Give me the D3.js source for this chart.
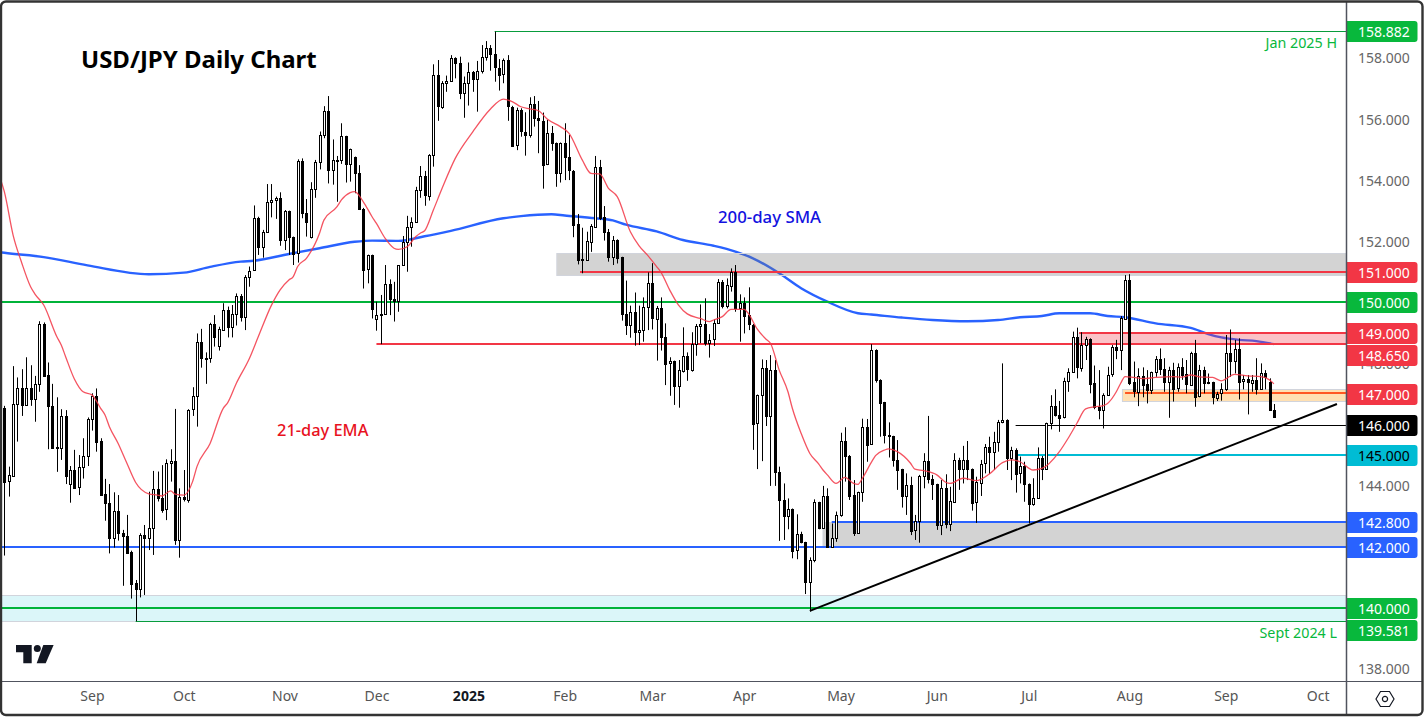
<!DOCTYPE html>
<html>
<head>
<meta charset="utf-8">
<script src="https://cdn.jsdelivr.net/npm/d3@7"></script>
<style>
html,body{margin:0;padding:0;background:#fff;overflow:hidden}
svg{display:block}
text{font-family:"Noto Sans",sans-serif}
</style>
</head>
<body>
<svg id="chart" width="1427" height="717"></svg>
<script>
//candles (291 daily bars)
const opens=[146.57,144.15,144.33,146.68,147.20,146.64,147.20,146.84,147.33,149.30,
147.63,146.63,145.27,145.24,146.29,144.06,144.53,143.95,144.62,144.98,
146.19,146.95,145.48,143.74,143.44,142.28,143.18,142.46,142.37,141.85,
140.82,140.61,142.39,142.28,142.62,143.90,143.60,143.23,144.75,144.81,
142.22,143.64,143.57,146.50,146.94,148.71,148.20,148.19,149.30,148.57,
149.11,149.76,149.19,149.63,150.22,149.53,150.84,151.06,152.77,151.81,
152.31,153.28,153.36,153.42,152.04,153.00,152.15,151.62,154.64,152.93,
152.14,153.72,154.60,155.49,156.27,154.33,154.68,154.67,155.45,154.54,
154.76,154.24,153.09,151.09,151.56,149.45,149.64,149.63,150.61,150.12,
150.04,151.23,151.98,152.47,152.64,153.68,154.14,153.51,154.83,157.45,
156.42,157.19,157.25,158.01,157.84,156.86,157.19,157.55,157.32,157.58,
158.04,158.33,158.14,157.70,157.48,157.94,156.42,155.16,156.31,155.61,
155.50,156.50,156.04,155.96,154.52,155.55,155.22,154.23,155.22,154.76,
154.33,152.57,151.44,151.40,152.01,152.50,154.45,152.80,152.32,151.51,
152.06,151.49,149.63,149.26,149.69,149.03,149.10,149.85,150.64,149.48,
149.83,148.90,148.01,148.09,147.26,147.77,148.25,147.81,148.65,149.22,
149.30,148.70,148.80,149.33,150.67,149.88,150.57,151.02,149.84,149.99,
149.60,149.29,146.05,146.97,147.86,146.28,147.79,144.45,143.54,143.00,
143.25,141.89,142.42,142.16,140.84,141.57,143.47,142.61,143.67,142.00,
142.29,143.05,145.47,144.99,143.70,142.46,143.80,145.93,145.36,148.45,
147.48,146.74,145.66,145.63,144.86,144.55,143.66,144.03,142.54,142.85,
144.31,144.81,144.23,144.06,142.72,143.93,142.75,143.49,144.86,144.56,
144.85,144.56,143.46,144.12,144.74,145.28,145.12,145.44,146.08,146.16,
144.93,145.20,144.41,144.65,144.07,143.41,143.62,144.92,144.55,146.06,
146.61,146.33,146.24,147.42,147.73,148.87,147.88,148.61,148.82,147.37,
146.60,146.50,147.00,147.65,148.55,148.44,149.48,150.75,147.40,147.09,
147.60,147.33,147.13,147.72,148.16,147.82,147.40,147.80,147.19,147.89,
147.66,147.31,148.36,146.93,147.79,147.41,147.40,146.90,147.03,147.17,
148.35,148.10,148.49,147.42,147.50,147.39,147.48,147.18,147.69,147.40,
146.49];
const closes=[144.15,144.36,146.68,147.20,146.64,147.20,146.84,147.33,149.30,147.61,
146.60,145.26,145.25,146.29,144.31,144.52,143.95,144.62,144.98,146.19,
146.95,145.46,143.72,143.44,142.28,143.18,142.45,142.35,141.82,140.81,
140.61,142.39,142.28,142.62,143.90,143.60,143.22,144.75,144.81,142.22,
143.64,143.57,146.50,146.94,148.71,148.19,148.18,149.30,148.87,149.14,
149.76,149.19,149.63,150.22,149.52,150.84,151.05,152.77,151.81,152.31,
153.29,153.36,153.42,152.04,153.00,152.14,151.60,154.64,152.93,152.64,
153.72,154.60,155.49,156.27,154.33,154.67,154.66,155.45,154.54,155.03,
154.23,153.07,151.09,151.56,149.78,149.59,149.62,150.61,150.11,150.04,
151.23,151.98,152.47,152.64,153.68,154.14,153.51,154.84,157.45,156.42,
157.19,157.25,158.01,157.84,156.86,157.19,157.55,157.32,157.58,158.04,
158.33,158.14,157.70,157.48,157.94,156.42,155.14,156.31,155.61,155.50,
156.50,156.03,155.96,154.52,155.55,155.21,154.23,155.22,154.75,154.33,
152.56,151.40,151.42,152.01,152.52,154.45,152.77,152.30,151.51,152.06,
151.47,149.61,149.26,149.69,149.03,149.10,149.86,150.64,149.48,149.83,
148.89,148.01,148.09,147.26,147.79,148.25,147.81,148.65,149.23,149.30,
148.68,148.80,149.33,150.67,149.88,150.57,151.02,149.84,149.99,149.58,
149.29,146.05,146.98,147.86,146.28,147.79,144.44,143.53,143.00,143.24,
141.89,142.42,142.15,140.84,141.57,143.47,142.61,143.67,142.00,142.29,
143.05,145.47,144.97,143.69,142.46,143.80,145.93,145.35,148.45,147.48,
146.73,145.65,145.62,144.84,144.54,143.66,144.03,142.54,142.85,144.32,
144.81,144.22,144.05,142.72,143.93,142.75,143.50,144.85,144.56,144.85,
144.54,143.46,144.13,144.74,145.27,145.12,145.44,146.09,146.16,144.93,
145.20,144.41,144.65,144.06,143.41,143.62,144.92,144.55,146.06,146.61,
146.31,146.24,147.43,147.73,148.87,147.89,148.62,148.82,147.35,146.60,
146.49,147.00,147.65,148.55,148.44,149.50,150.75,147.37,147.09,147.60,
147.32,147.13,147.73,148.16,147.82,147.40,147.80,147.19,147.89,147.64,
147.33,148.36,146.93,147.79,147.36,147.39,146.90,147.03,147.17,148.35,
148.10,148.49,147.42,147.50,147.39,147.48,147.18,147.69,147.55,146.49,
146.25];
const highs=[146.63,144.64,147.93,147.56,147.83,148.22,147.96,147.61,149.40,149.36,
148.05,147.35,146.91,146.52,146.49,144.66,145.19,145.02,145.57,146.25,
147.04,147.20,145.57,144.24,144.07,143.80,143.71,142.57,143.06,141.89,
140.93,142.46,142.73,143.82,144.50,144.48,144.69,144.88,145.21,146.53,
143.93,144.53,146.52,147.24,149.00,149.15,148.38,149.35,149.60,149.22,
149.99,149.88,149.93,150.31,150.29,150.91,151.19,153.19,152.82,152.39,
153.89,153.89,153.48,153.62,153.04,153.02,152.17,154.70,154.73,153.40,
153.95,154.68,155.61,156.44,156.77,155.35,154.81,155.88,155.47,155.05,
154.79,154.51,153.11,151.58,151.58,150.04,150.26,151.24,150.77,150.69,
151.24,152.19,152.85,152.80,153.80,154.48,154.32,154.87,157.81,157.95,
157.26,157.44,158.11,158.04,158.06,157.41,157.87,157.59,157.92,158.44,
158.57,158.44,158.88,157.98,158.00,158.11,156.45,156.39,156.37,156.24,
156.73,156.77,156.61,156.23,155.99,155.79,155.25,155.25,155.88,155.50,
154.35,152.91,152.46,152.33,152.58,154.81,154.68,153.17,152.42,152.19,
152.08,151.51,150.73,149.91,150.34,149.91,150.18,151.00,151.30,149.90,
150.18,149.33,148.22,148.11,148.13,149.20,148.38,149.04,149.31,149.95,
150.15,148.98,149.46,150.78,150.75,150.80,151.13,151.24,150.28,150.18,
150.51,149.31,147.00,148.15,148.13,148.29,148.13,144.64,144.09,143.60,
143.27,143.08,142.51,142.18,141.67,143.57,143.49,144.01,143.93,142.78,
143.17,145.75,145.93,145.02,144.20,143.82,146.21,146.20,148.65,148.48,
147.50,146.76,146.09,145.65,145.51,144.57,144.42,144.31,143.06,144.37,
145.08,146.30,144.37,144.08,144.20,144.39,143.98,145.08,144.93,145.32,
145.48,144.58,144.31,144.86,145.38,145.62,145.78,146.17,148.02,146.19,
145.29,145.24,144.97,144.80,144.09,144.26,145.27,144.99,146.08,146.98,
147.17,146.79,147.55,147.86,149.06,149.19,149.04,148.89,148.84,147.95,
147.80,147.04,147.91,148.62,148.79,149.57,150.91,150.94,148.08,147.86,
147.89,147.80,147.75,148.26,148.51,148.19,147.91,148.04,148.02,148.19,
148.13,148.40,148.79,147.97,147.91,147.69,147.42,147.09,147.37,148.95,
149.13,148.79,148.84,147.64,147.64,147.64,148.19,148.02,147.80,147.53,
146.69];
const lows=[141.73,143.66,144.31,145.46,146.30,146.64,146.63,146.11,147.09,147.59,
145.21,145.24,144.47,144.86,144.07,143.46,143.95,143.71,144.25,144.66,
145.82,145.13,143.72,142.87,141.80,141.99,142.22,140.74,141.78,140.32,
139.58,140.36,140.44,141.91,141.75,143.50,143.13,142.89,144.15,142.08,
141.66,143.50,143.46,146.30,145.95,147.88,147.35,148.04,148.57,148.44,
149.08,148.87,148.87,149.26,149.39,149.11,150.53,151.05,151.57,151.48,
152.31,152.80,152.75,151.87,151.73,151.57,151.24,151.32,152.77,152.17,
152.11,153.44,154.37,155.39,153.91,153.87,153.31,154.55,153.94,153.97,
153.59,153.04,150.47,150.64,149.49,149.09,148.65,149.62,149.60,149.39,
149.71,151.22,151.02,151.84,152.63,153.44,153.18,153.35,154.46,155.96,
156.35,156.91,157.24,157.35,156.67,156.06,156.46,156.91,156.26,157.51,
157.93,157.60,157.24,156.95,157.19,155.96,155.11,155.00,155.44,154.82,
155.41,155.77,154.90,153.74,154.51,154.98,153.80,153.94,154.02,154.02,
152.15,151.26,150.97,151.38,151.67,152.50,152.71,152.04,151.35,151.24,
151.29,149.42,148.95,148.86,148.60,148.62,148.73,149.11,149.13,148.11,
148.44,147.31,146.96,146.66,146.57,147.72,147.45,147.75,148.27,148.68,
148.60,148.21,148.59,149.31,149.82,149.82,150.37,149.71,148.73,149.00,
149.11,145.19,144.56,144.82,145.97,144.01,144.01,142.21,142.24,142.59,
141.64,141.61,142.13,140.47,139.90,141.51,142.59,142.60,141.99,141.99,
142.18,143.00,144.15,143.55,142.37,142.45,143.49,144.80,145.35,147.39,
145.62,145.40,144.94,144.64,143.88,143.30,143.06,142.40,142.24,142.15,
143.93,144.09,143.55,142.57,142.40,142.62,142.53,143.48,143.88,144.09,
144.20,143.20,142.80,143.68,144.42,144.40,144.53,145.13,146.06,144.53,
144.20,143.79,144.09,143.49,142.78,143.36,143.60,144.20,144.53,145.86,
146.28,145.78,146.22,147.09,147.72,147.53,147.75,148.13,147.04,146.52,
146.19,145.89,146.98,147.58,148.16,147.80,149.46,147.31,146.91,146.62,
146.91,146.71,147.02,147.58,147.64,147.09,146.24,146.77,147.09,147.48,
147.04,147.29,146.60,146.91,147.04,147.34,146.68,146.79,146.80,147.12,
147.58,147.69,146.84,147.17,146.35,147.09,147.00,147.17,147.17,146.47,
146.24];

//21-day EMA and 200-day SMA, read at the bars where the line bends
const emaBars=[-1,0,2,4,6,7,9,12,13,14,16,18,20,22,23,24,26,28,30,33,35,36,38,39,41,43,44,47,50,51,53,56,58,61,63,65,66,67,69,72,73,76,77,79,80,82,84,85,87,89,90,92,94,95,96,98,100,103,107,111,114,116,118,120,122,124,127,129,132,134,136,138,140,143,145,147,149,150,152,154,156,159,161,162,164,166,169,170,172,174,175,177,179,180,182,184,186,187,188,190,192,194,195,196,198,199,201,202,204,207,208,210,213,215,216,219,222,225,228,230,232,235,237,241,243,245,247,249,251,252,254,255,256,258,260,263,267,269,271,273,276,278,281,284,287,289,290];
const emaVals=[154.10,153.64,152.22,151.30,150.53,150.29,149.93,148.89,148.62,148.24,147.51,147.09,146.99,146.55,146.33,145.95,145.40,144.75,144.12,143.75,143.71,143.68,143.85,143.74,143.71,144.15,144.64,145.40,146.55,146.73,147.37,148.19,148.89,149.92,150.43,150.75,150.86,151.19,151.46,152.28,152.71,153.15,153.37,153.61,153.64,153.31,152.82,152.60,152.11,151.79,151.75,151.84,152.17,152.28,152.36,153.04,153.75,154.73,155.60,156.34,156.67,156.59,156.42,156.35,156.29,156.02,155.77,155.55,154.68,154.24,154.22,153.75,153.48,152.33,151.87,151.55,151.19,151.00,150.42,149.93,149.64,149.49,149.39,149.44,149.55,149.79,149.79,149.64,149.14,148.81,148.68,147.80,147.09,146.55,145.73,145.07,144.73,144.53,144.37,144.09,144.29,144.09,144.06,144.26,144.77,145.00,145.18,145.22,145.13,144.75,144.56,144.51,144.37,144.13,144.09,144.26,144.18,144.40,144.77,144.86,144.80,144.53,144.58,145.13,145.57,146.06,146.53,146.60,146.64,146.71,147.09,147.37,147.59,147.56,147.52,147.56,147.59,147.57,147.64,147.58,147.56,147.45,147.66,147.61,147.59,147.48,147.35];
const smaBars=[-1,0,9,19,33,41,47,54,57,65,72,80,84,90,96,102,114,118,125,128,135,139,142,149,155,162,167,171,177,182,188,195,198,205,212,220,227,232,237,241,248,252,256,263,271,275,278,282,286,290];
const smaVals=[151.66,151.64,151.50,151.23,150.94,150.99,151.18,151.35,151.38,151.60,151.79,152.00,152.04,152.03,152.18,152.36,152.77,152.84,152.90,152.86,152.77,152.70,152.56,152.34,152.06,151.87,151.68,151.46,150.97,150.48,150.04,149.66,149.62,149.52,149.44,149.40,149.44,149.53,149.57,149.66,149.66,149.57,149.53,149.33,149.18,148.98,148.87,148.79,148.75,148.65];

//axes
const priceTicks=[138,140,142,144,146,148,150,152,154,156,158];
const monthBars=[20,41,64,85,106,128,148,169,191,213,234,257,279,300];
const monthLabels=["Sep","Oct","Nov","Dec","2025","Feb","Mar","Apr","May","Jun","Jul","Aug","Sep","Oct"];

//horizontal levels: price, first bar, colour, width
const levelPrices=[158.882,151,150,149,148.65,147.02,146,145,142.8,142,140,139.581];
const levelStart=[112,131.5,-1,245.5,85,256,231,231.5,189,-1,-1,30];
const levelColors=["#089c3c","#f23645","#00b339","#f23645","#f23645","#ff5722","#000000","#00bcd4","#2962ff","#2962ff","#00b339","#089c3c"];
const levelWidths=[1,2,2,2,2,2,1,2,2,2,2,1];

//price labels on the axis
const tagTexts=["158.882","151.000","150.000","149.000","148.650","147.000","146.000","145.000","142.800","142.000","140.000","139.581"];
const tagPrices=[158.882,151,150,149,148.65,147,146,145,142.8,142,140,139.581];
const tagNudge=[0,0,0,0,11,0,0,0,0,0,0,9];
const tagFills=["#08b83c","#f23645","#08b83c","#f23645","#f23645","#f23645","#000000","#00bcd4","#2962ff","#2962ff","#08b83c","#08b83c"];
const tagInks=["#fff","#fff","#fff","#fff","#fff","#fff","#fff","#000","#fff","#fff","#fff","#fff"];

//shaded zones
const zoneTop=[151.63,149,147.15,142.8,140.42];
const zoneBottom=[150.92,148.65,146.77,142,139.58];
const zoneStart=[126.2,245.5,255.4,187,-1];
const zoneFills=["rgba(120,120,120,.33)","rgba(242,54,69,.3)","rgba(255,152,0,.3)","rgba(120,120,120,.33)","rgba(0,188,212,.14)"];

//trend line
const trendBars=[184,304.4];
const trendPrices=[139.92,146.69];

const plotRight=1346,plotBottom=681;
const svg=d3.select("#chart");
const x=d3.scaleLinear().domain([0,304]).range([4.33,1335.2]);
const y=d3.scaleLinear().domain([138,158]).range([669.5,58.5]);
const px=function(v){return Math.round(v)+0.5;};

svg.append("clipPath").attr("id","plot").append("rect").attr("x",2).attr("y",2).attr("width",plotRight-2).attr("height",plotBottom-2);
const plot=svg.append("g").attr("clip-path","url(#plot)");
const bars=d3.range(opens.length);

//200-day SMA goes under the zones, it looks dimmed where they overlap
const lineGen=d3.line().x(function(d){return x(d[0]);}).y(function(d){return y(d[1]);}).curve(d3.curveMonotoneX);
plot.append("path")
	.attr("d",lineGen(smaBars.map(function(b,i){return [b,smaVals[i]];})))
	.attr("fill","none").attr("stroke","#2962ff").attr("stroke-width",2.4);

plot.selectAll("rect.zone").data(zoneTop).enter().append("rect")
	.attr("class","zone")
	.attr("x",function(d,i){return x(zoneStart[i]);})
	.attr("y",function(d){return Math.floor(y(d))+0.5;})
	.attr("width",function(d,i){return plotRight-x(zoneStart[i]);})
	.attr("height",function(d,i){return Math.round(y(zoneBottom[i])-y(d));})
	.attr("fill",function(d,i){return zoneFills[i];})
	.attr("stroke","#d1d4dc").attr("stroke-width",1);

//thin lines sit on a half pixel, 2px ones on a whole pixel
const levelY=function(d,i){return Math.floor(y(d))+(levelWidths[i]==1?0.5:0);};
plot.selectAll("line.level").data(levelPrices).enter().append("line")
	.attr("class","level")
	.attr("x1",function(d,i){return x(levelStart[i]);})
	.attr("x2",plotRight)
	.attr("y1",levelY)
	.attr("y2",levelY)
	.attr("stroke",function(d,i){return levelColors[i];})
	.attr("stroke-width",function(d,i){return levelWidths[i];});

//candles
const candle=plot.selectAll("g.candle").data(bars).enter().append("g").attr("class","candle");
candle.append("line")
	.attr("x1",function(i){return px(x(i));}).attr("x2",function(i){return px(x(i));})
	.attr("y1",function(i){return y(highs[i]);}).attr("y2",function(i){return y(lows[i]);})
	.attr("stroke","#000").attr("stroke-width",1);
candle.append("rect")
	.attr("x",function(i){return px(x(i))-1;})
	.attr("width",2)
	.attr("y",function(i){return px(y(Math.max(opens[i],closes[i])));})
	.attr("height",function(i){return Math.max(1,Math.round(Math.abs(y(opens[i])-y(closes[i]))));})
	.attr("fill",function(i){return closes[i]>=opens[i]?"#fff":"#000";})
	.attr("stroke","#000").attr("stroke-width",1);

//21-day EMA
plot.append("path")
	.attr("d",lineGen(emaBars.map(function(b,i){return [b,emaVals[i]];})))
	.attr("fill","none").attr("stroke","#f23645").attr("stroke-opacity",0.85).attr("stroke-width",1.3);

plot.append("line")
	.attr("x1",x(trendBars[0])).attr("y1",y(trendPrices[0]))
	.attr("x2",x(trendBars[1])).attr("y2",y(trendPrices[1]))
	.attr("stroke","#000").attr("stroke-width",2);

//logo
const logo=svg.append("g").attr("fill","#131722");
logo.append("path").attr("d","M16 645H31.7V663.3H23.3V652.3H16Z");
logo.append("circle").attr("cx",37.3).attr("cy",648.6).attr("r",3.5);
logo.append("path").attr("d","M43.3 645H53.6L45.7 663.3H36.7Z");

//text on the chart
const note=function(t,xp,yp,size,color,weight,anchor){
	svg.append("text").attr("x",xp).attr("y",yp).attr("font-size",size).attr("fill",color)
		.attr("font-weight",weight).attr("text-anchor",anchor).text(t);
};
note("USD/JPY Daily Chart",81,68,24,"#000","700","start");
note("200-day SMA",718,223,16.8,"#1212e0","500","start");
note("21-day EMA",277,436,16.4,"#e8121e","500","start");
note("Jan 2025 H",1337,48,14.3,"#08b83c","400","end");
note("Sept 2024 L",1337,638,14.3,"#08b83c","400","end");

//axes
const yAxis=d3.axisRight(y).tickValues(priceTicks).tickSize(0).tickPadding(12)
	.tickFormat(d3.format(".3f"));
const gy=svg.append("g").attr("transform","translate("+plotRight+",0)").call(yAxis);
gy.select(".domain").remove();
gy.selectAll("text").attr("font-size",14).attr("fill","#666").style("font-family",'"Noto Sans",sans-serif');

const monthX=d3.scaleOrdinal().domain(monthBars).range(monthBars.map(function(b){return x(b);}));
const xAxis=d3.axisBottom(monthX).tickValues(monthBars).tickSize(0).tickPadding(10)
	.tickFormat(function(d,i){return monthLabels[i];});
const gx=svg.append("g").attr("transform","translate(0,"+plotBottom+")").call(xAxis);
gx.select(".domain").remove();
gx.selectAll("text").attr("font-size",14).attr("fill","#555").style("font-family",'"Noto Sans",sans-serif');
gx.selectAll("text").filter(function(d,i){return monthLabels[i]=="2025";}).attr("font-weight","700").attr("fill","#131722");

//price tags on top of the axis text
const tagY=function(i){return Math.floor(y(tagPrices[i])+tagNudge[i]);};
const tags=svg.selectAll("g.tag").data(tagTexts).enter().append("g").attr("class","tag");
tags.append("path")
	.attr("d",function(d,i){const t=tagY(i)-10;return "M1347 "+t+"H1414.5a3 3 0 0 1 3 3V"+(t+18)+"a3 3 0 0 1 -3 3H1347Z";})
	.attr("fill",function(d,i){return tagFills[i];});
tags.append("text")
	.attr("x",1358).attr("y",function(d,i){return tagY(i)+5.5;})
	.attr("font-size",14).attr("fill",function(d,i){return tagInks[i];})
	.text(function(d){return d;});

//frame
svg.append("line").attr("x1",1346.5).attr("x2",1346.5).attr("y1",2).attr("y2",714).attr("stroke","#50535e").attr("stroke-width",1.5);
svg.append("line").attr("x1",2).attr("x2",1422).attr("y1",681.5).attr("y2",681.5).attr("stroke","#50535e").attr("stroke-width",1.2);
svg.append("rect").attr("x",1).attr("y",1.5).attr("width",1421.5).attr("height",713.5).attr("rx",5)
	.attr("fill","none").attr("stroke","#333").attr("stroke-width",2.4);

//settings icon
const gear=svg.append("g").attr("transform","translate(1385,699)").attr("fill","none").attr("stroke","#131722").attr("stroke-width",1.2);
gear.append("path").attr("d","M-9 0L-4.5 -7.5H4.5L9 0L4.5 7.5H-4.5Z");
gear.append("circle").attr("r",2.6);
</script>
</body>
</html>
